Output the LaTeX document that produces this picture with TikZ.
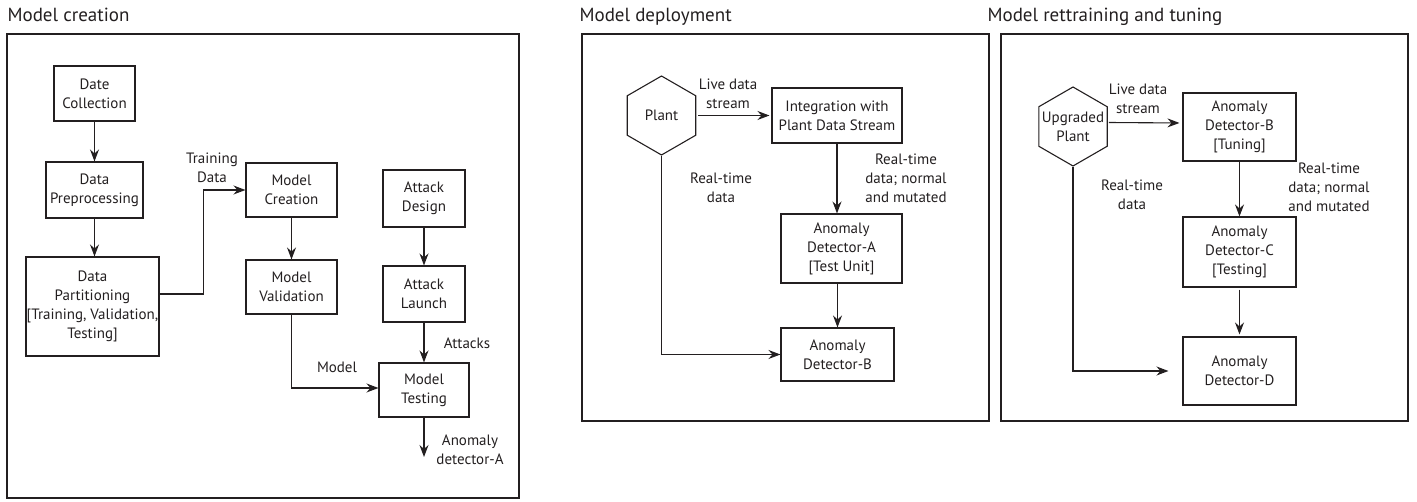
\documentclass[tikz,border=0pt]{standalone}
\usepackage{fontspec}
\setmainfont{PT Sans}
\usetikzlibrary{shapes.geometric,arrows.meta}
\definecolor{ink}{HTML}{231F20}
\begin{document}
\begin{tikzpicture}[x=1pt,y=-1pt, color=ink,
  every node/.style={font=\fontsize{15}{19}\selectfont, text=ink},
  line width=1.1pt,
  box/.style={draw=ink, rectangle, align=center, inner sep=0pt},
  hexa/.style={draw=ink, regular polygon, regular polygon sides=6, minimum size=79pt, inner sep=0pt, shape border rotate=30},
  lbl/.style={align=center, inner sep=0pt},
  ttl/.style={anchor=base west, inner sep=0pt, font=\fontsize{19}{23}\selectfont},
  frame/.style={draw=ink, line width=1.1pt},
  arr/.style={draw=ink, -{Stealth[length=12pt,width=9pt,inset=4pt]}},
  ln/.style={draw=ink}
]
\useasboundingbox (0,0) rectangle (1417,502);

% ---------- Panel 1 ----------
\node[ttl] (t1) at (7,22) {Model creation};
\draw[frame] (7,34) rectangle (519,498);
\node[box, minimum width=81pt, minimum height=55pt] (dc) at (94.5,93.5) {Date\\Collection};
\node[box, minimum width=97pt, minimum height=56pt] (dp) at (94.5,190) {Data\\Preprocessing};
\node[box, minimum width=133pt, minimum height=99pt] (dpart) at (92.5,306.5) {Data\\Partitioning\\{[Training, Validation,}\\Testing]};
\node[box, minimum width=91pt, minimum height=54pt] (mc) at (291.5,190) {Model\\Creation};
\node[box, minimum width=91pt, minimum height=54pt] (mv) at (291.5,287) {Model\\Validation};
\node[box, minimum width=82pt, minimum height=57pt] (ad) at (424,198.5) {Attack\\Design};
\node[box, minimum width=82pt, minimum height=56pt] (al) at (424,294) {Attack\\Launch};
\node[box, minimum width=90pt, minimum height=54pt] (mt) at (424,390) {Model\\Testing};
\coordinate (out) at (424,457);

\draw[arr] (dc.south) -- (dp.north);
\draw[arr] (dp.south) -- (dp.south |- dpart.north);
\draw[arr] ([yshift=12.5pt]dpart.east) -- ++(44,0) |- (mc.west);
\draw[arr] (mc.south) -- (mv.north);
\draw[arr] (ad.south) -- (al.north);
\draw[arr] (al.south) -- (mt.north);
\draw[arr] (mv.south) |- ([yshift=2pt]mt.west);
\draw[arr] (mt.south) -- (out);

\node[lbl] (ltd) at (212,167.5) {Training\\Data};
\node[lbl] (lat) at (467,343) {Attacks};
\node[lbl] (lmo) at (337,367) {Model};
\node[lbl] (lan) at (470,450) {Anomaly\\detector-A};

% ---------- Panel 2 ----------
\node[ttl] (t2) at (579,22) {Model deployment};
\draw[frame] (582,34) rectangle (989,421);
\node[hexa, label={[lbl]center:Plant}] (plant) at (661.5,115.5) {};
\node[box, minimum width=130pt, minimum height=55pt] (integ) at (837,115.5) {Integration with\\Plant Data Stream};
\node[box, minimum width=121pt, minimum height=69pt] (ada) at (841.5,248.5) {Anomaly\\Detector-A\\{[Test Unit]}};
\node[box, minimum width=113pt, minimum height=53pt] (adb) at (837.5,354.5) {Anomaly\\Detector-B};

\draw[arr, shorten <=2pt, shorten >=2pt] (plant.east) -- (integ.west);
\draw[arr] (integ.south) -- (integ.south |- ada.north);
\draw[arr] (adb.north |- ada.south) -- (adb.north);
\draw[arr] (plant.south) |- (adb.west);

\node[lbl] (lld2) at (728,93.5) {Live data\\stream};
\node[lbl] (lrt2) at (906,178.5) {Real-time\\data; normal\\and mutated};
\node[lbl] (lrd2) at (721,188) {Real-time\\data};

% ---------- Panel 3 ----------
\node[ttl] (t3) at (987,22) {Model rettraining and tuning};
\draw[frame] (1001,34) rectangle (1408,421);
\node[hexa, label={[lbl]center:Upgraded\\Plant}] (uplant) at (1073,126.5) {};
\node[box, minimum width=113pt, minimum height=68pt] (adbt) at (1239.5,127) {Anomaly\\Detector-B\\{[Tuning]}};
\node[box, minimum width=113pt, minimum height=70pt] (adc) at (1239.5,252) {Anomaly\\Detector-C\\{[Testing]}};
\node[box, minimum width=113pt, minimum height=68pt] (add) at (1239.5,371) {Anomaly\\Detector-D};

\draw[arr, shorten <=1pt, shorten >=3pt] ([yshift=4pt]uplant.east) -- ([yshift=4pt]adbt.west);
\draw[arr] (adbt.south) -- (adc.north);
\draw[arr, shorten <=2pt, shorten >=2pt] (adc.south) -- (add.north);
\draw[arr, shorten >=14pt] (uplant.south) |- (add.west);

\node[lbl] (lld3) at (1138,99) {Live data\\stream};
\node[lbl] (lrt3) at (1329,187.5) {Real-time\\data; normal\\and mutated};
\node[lbl] (lrd3) at (1132,195) {Real-time\\data};
\end{tikzpicture}
\end{document}
